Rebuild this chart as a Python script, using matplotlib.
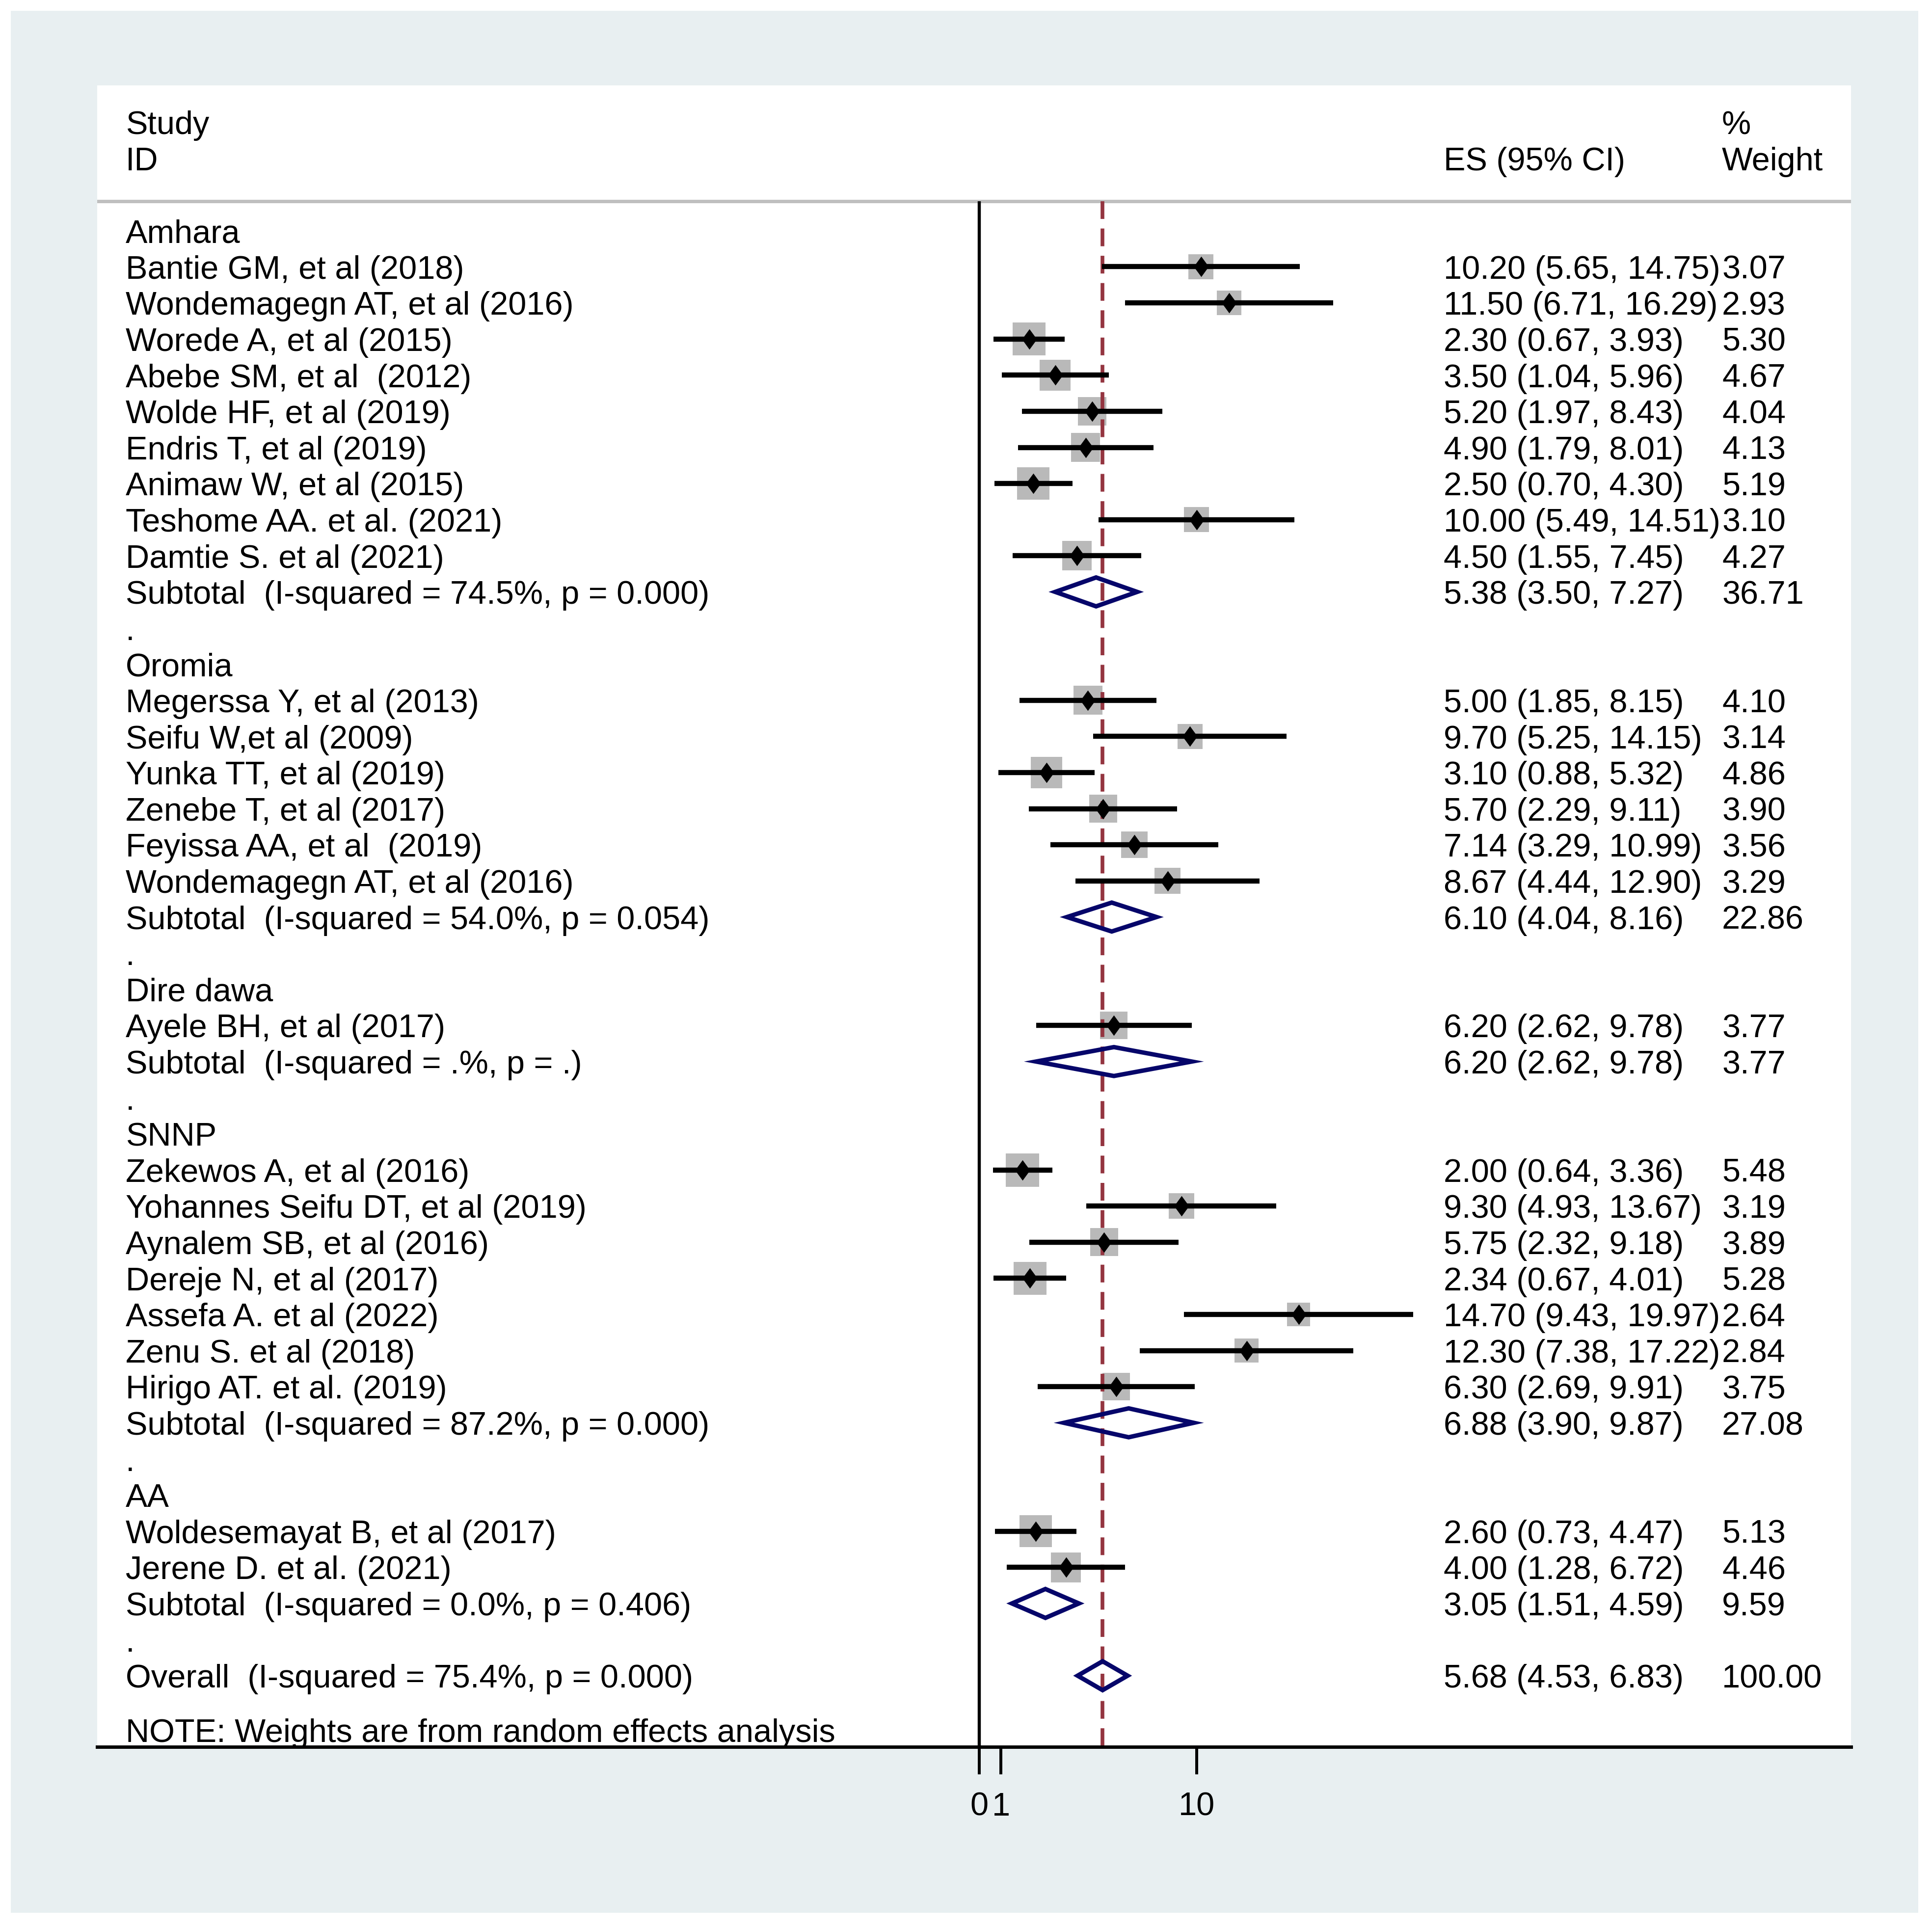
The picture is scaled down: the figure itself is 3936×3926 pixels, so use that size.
import numpy as np
import matplotlib
matplotlib.use("Agg")
import matplotlib.pyplot as plt
from matplotlib.patches import Polygon, Rectangle
from matplotlib.transforms import blended_transform_factory

# ─────────────────────────────────────────────
# Data
# ─────────────────────────────────────────────
GROUPS = ["Amhara", "Oromia", "Dire dawa", "SNNP", "AA"]

study_names = [
    "Bantie GM, et al (2018)", "Wondemagegn AT, et al (2016)", "Worede A, et al (2015)",
    "Abebe SM, et al  (2012)", "Wolde HF, et al (2019)", "Endris T, et al (2019)",
    "Animaw W, et al (2015)", "Teshome AA. et al. (2021)", "Damtie S. et al (2021)",
    "Megerssa Y, et al (2013)", "Seifu W,et al (2009)", "Yunka TT, et al (2019)",
    "Zenebe T, et al (2017)", "Feyissa AA, et al  (2019)", "Wondemagegn AT, et al (2016)",
    "Ayele BH, et al (2017)",
    "Zekewos A, et al (2016)", "Yohannes Seifu DT, et al (2019)", "Aynalem SB, et al (2016)",
    "Dereje N, et al (2017)", "Assefa A. et al (2022)", "Zenu S. et al (2018)",
    "Hirigo AT. et al. (2019)",
    "Woldesemayat B, et al (2017)", "Jerene D. et al. (2021)",
]
study_group = [0] * 9 + [1] * 6 + [2] + [3] * 7 + [4] * 2
study_es = [10.20, 11.50, 2.30, 3.50, 5.20, 4.90, 2.50, 10.00, 4.50,
            5.00, 9.70, 3.10, 5.70, 7.14, 8.67,
            6.20,
            2.00, 9.30, 5.75, 2.34, 14.70, 12.30, 6.30,
            2.60, 4.00]
study_lo = [5.65, 6.71, 0.67, 1.04, 1.97, 1.79, 0.70, 5.49, 1.55,
            1.85, 5.25, 0.88, 2.29, 3.29, 4.44,
            2.62,
            0.64, 4.93, 2.32, 0.67, 9.43, 7.38, 2.69,
            0.73, 1.28]
study_hi = [14.75, 16.29, 3.93, 5.96, 8.43, 8.01, 4.30, 14.51, 7.45,
            8.15, 14.15, 5.32, 9.11, 10.99, 12.90,
            9.78,
            3.36, 13.67, 9.18, 4.01, 19.97, 17.22, 9.91,
            4.47, 6.72]
study_wt = [3.07, 2.93, 5.30, 4.67, 4.04, 4.13, 5.19, 3.10, 4.27,
            4.10, 3.14, 4.86, 3.90, 3.56, 3.29,
            3.77,
            5.48, 3.19, 3.89, 5.28, 2.64, 2.84, 3.75,
            5.13, 4.46]

sub_labels = [
    "Subtotal  (I-squared = 74.5%, p = 0.000)",
    "Subtotal  (I-squared = 54.0%, p = 0.054)",
    "Subtotal  (I-squared = .%, p = .)",
    "Subtotal  (I-squared = 87.2%, p = 0.000)",
    "Subtotal  (I-squared = 0.0%, p = 0.406)",
]
sub_es = [5.38, 6.10, 6.20, 6.88, 3.05]
sub_lo = [3.50, 4.04, 2.62, 3.90, 1.51]
sub_hi = [7.27, 8.16, 9.78, 9.87, 4.59]
sub_wt = [36.71, 22.86, 3.77, 27.08, 9.59]

overall_label = "Overall  (I-squared = 75.4%, p = 0.000)"
overall_es, overall_lo, overall_hi, overall_wt = 5.68, 4.53, 6.83, 100.00
note_text = "NOTE: Weights are from random effects analysis"

x_ticks = [0, 1, 10]
x_ticklabels = ["0", "1", "10"]

# ─────────────────────────────────────────────
# Style
# ─────────────────────────────────────────────
plt.rcParams["font.family"] = ["Liberation Sans", "DejaVu Sans"]
plt.rcParams["lines.scale_dashes"] = False
FS = 48
BG = "#e8eff1"
BOX = "#b9b9b9"
NAVY = "#06066a"
RED = "#943540"

fig = plt.figure(figsize=(39.37, 39.26), dpi=100)
fig.patch.set_facecolor("white")
fig.add_artist(Rectangle((22 / 3937, 29 / 3926), (3908 - 22) / 3937, (3904 - 29) / 3926,
                         transform=fig.transFigure, facecolor=BG, edgecolor="none", zorder=-10))

ax = fig.add_axes([198 / 3937, 367 / 3926, (3771 - 198) / 3937, (3559 - 174) / 3926])
ax.set_zorder(1)
ax.set_facecolor("white")
ax.set_xlim(-40.56, 40.10)
ax.set_ylim(41.97, -4.02)
for side in ("top", "left", "right"):
    ax.spines[side].set_visible(False)
ax.spines["bottom"].set_linewidth(5)
ax.set_yticks([])
ax.set_xticks(x_ticks)
ax.set_xticklabels(x_ticklabels, fontsize=FS)
ax.tick_params(axis="x", length=40, width=4.3, pad=26, color="black")

tr = blended_transform_factory(ax.transAxes, ax.transData)
X_ID, X_ES, X_WT = 0.0162, 0.7677, 0.9264
BASE = 0.33  # baseline offset (rows) below row centre


def put(x, row, s):
    ax.text(x, row + BASE, s, transform=tr, fontsize=FS, ha="left", va="baseline")


def ci_text(es, lo, hi):
    return f"{es:.2f} ({lo:.2f}, {hi:.2f})"


def pooled_diamond(row, es, lo, hi):
    h = 0.40
    ax.add_patch(Polygon([(lo, row), (es, row - h), (hi, row), (es, row + h)], closed=True,
                         facecolor="none", edgecolor=NAVY, lw=6.5, joinstyle="miter", zorder=5))


# header
SEP = -0.815
put(X_ID, -3, "Study")
put(X_ID, -2, "ID")
put(X_WT, -3, "%")
put(X_ES, -2, "ES (95% CI)")
put(X_WT, -2, "Weight")
ax.axhline(SEP, color="#bfbfbf", lw=5, zorder=1)

# reference lines
ax.plot([0, 0], [SEP, 41.97], color="black", lw=4.6, solid_capstyle="butt", zorder=3)
ax.plot([overall_es, overall_es], [SEP, 41.97], color=RED, lw=5.5,
        linestyle=(0, (26, 14)), zorder=2.5)

pt_marker = [(0, 1), (0.73, 0), (0, -1), (-0.73, 0)]

row = 0
for g, gname in enumerate(GROUPS):
    put(X_ID, row, gname)
    row += 1
    for i in range(len(study_names)):
        if study_group[i] != g:
            continue
        ax.scatter([study_es[i]], [row], marker="s", s=436 * study_wt[i],
                   color=BOX, edgecolors="none", zorder=2)
        ax.plot([study_lo[i], study_hi[i]], [row, row], color="black", lw=7.5,
                solid_capstyle="butt", zorder=3)
        ax.plot([study_es[i]], [row], marker=pt_marker, ms=30, color="black",
                markeredgewidth=0, zorder=4)
        put(X_ID, row, study_names[i])
        put(X_ES, row, ci_text(study_es[i], study_lo[i], study_hi[i]))
        put(X_WT, row, f"{study_wt[i]:.2f}")
        row += 1
    pooled_diamond(row, sub_es[g], sub_lo[g], sub_hi[g])
    put(X_ID, row, sub_labels[g])
    put(X_ES, row, ci_text(sub_es[g], sub_lo[g], sub_hi[g]))
    put(X_WT, row, f"{sub_wt[g]:.2f}")
    row += 1
    put(X_ID, row, ".")
    row += 1

pooled_diamond(row, overall_es, overall_lo, overall_hi)
put(X_ID, row, overall_label)
put(X_ES, row, ci_text(overall_es, overall_lo, overall_hi))
put(X_WT, row, f"{overall_wt:.2f}")
put(X_ID, row + 1.5, note_text)

fig.savefig("out.png", dpi=100, facecolor=fig.get_facecolor())
plt.close(fig)
